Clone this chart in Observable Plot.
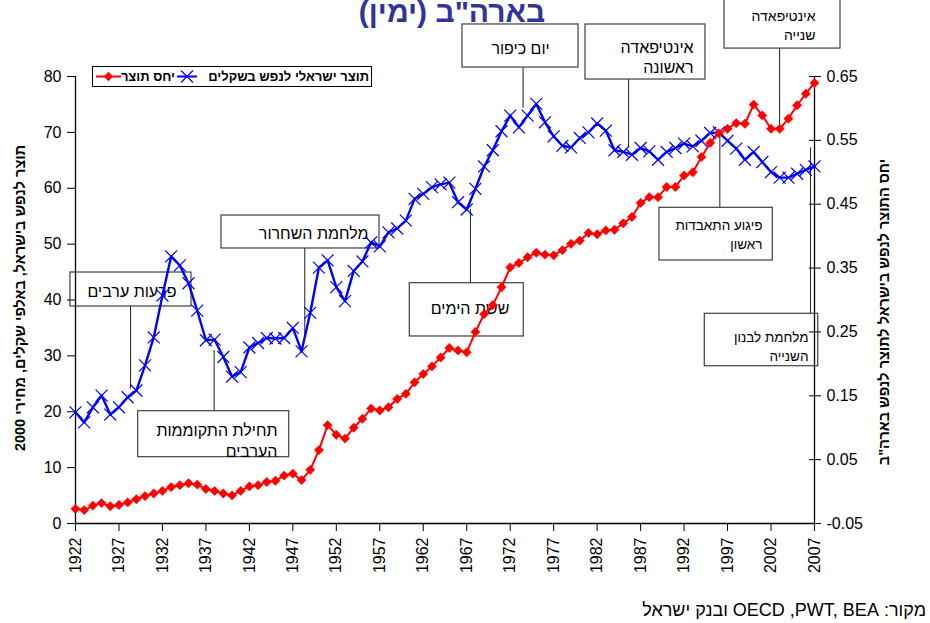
<!DOCTYPE html>
<html><head><meta charset="utf-8">
<script src="https://cdn.jsdelivr.net/npm/d3@7"></script>
<script src="https://cdn.jsdelivr.net/npm/@observablehq/plot@0.6"></script>
<style>
body{margin:0;background:#fff;}
#wrap{position:relative;width:930px;height:623px;overflow:hidden;background:#fff;font-family:"Liberation Sans",Arial,sans-serif;}
#chart{position:absolute;left:0;top:0;}
.abs{position:absolute;white-space:nowrap;}
</style></head><body>
<div id="wrap"><div id="chart"></div></div>
<script>
// ---------- data ----------
const years = d3.range(1922, 2008);
const gdpPerCapita = [
  19.9, 18.1, 20.8, 22.9, 19.5, 20.8, 22.6, 23.8, 28.3, 33.3,
  40.8, 47.8, 46.2, 43.0, 38.1, 32.8, 32.9, 29.8, 26.3, 27.1,
  31.5, 32.3, 33.2, 33.1, 33.2, 35.0, 30.8, 37.7, 45.8, 47.1,
  42.3, 39.8, 45.2, 46.9, 50.3, 49.6, 52.1, 52.8, 54.2, 58.1,
  59.0, 60.2, 60.7, 61.0, 57.5, 56.2, 59.9, 63.9, 66.8, 70.2,
  73.0, 70.9, 73.0, 75.1, 71.8, 69.3, 67.6, 67.3, 69.0, 70.0,
  71.6, 70.3, 66.8, 66.5, 66.0, 67.2, 66.6, 65.1, 66.5, 67.2,
  68.0, 67.5, 68.5, 69.9, 70.0, 68.5, 67.1, 65.1, 66.5, 64.7,
  62.9, 61.9, 61.9, 62.6, 63.3, 63.9
];
const gdpRatio = [
  -0.027, -0.029, -0.022, -0.018, -0.023, -0.021, -0.017, -0.012, -0.007, -0.003,
  0.001, 0.007, 0.010, 0.013, 0.011, 0.004, 0.001, -0.003, -0.006, 0.001,
  0.008, 0.010, 0.015, 0.017, 0.025, 0.028, 0.018, 0.034, 0.065, 0.104,
  0.089, 0.083, 0.100, 0.114, 0.130, 0.127, 0.132, 0.145, 0.153, 0.171,
  0.184, 0.196, 0.210, 0.225, 0.221, 0.218, 0.250, 0.278, 0.292, 0.320,
  0.351, 0.358, 0.367, 0.374, 0.371, 0.370, 0.378, 0.388, 0.393, 0.405,
  0.403, 0.409, 0.410, 0.420, 0.430, 0.452, 0.461, 0.461, 0.477, 0.477,
  0.495, 0.500, 0.524, 0.546, 0.561, 0.568, 0.577, 0.576, 0.606, 0.589,
  0.568, 0.568, 0.584, 0.605, 0.623, 0.640
];
const xTickYears = [1922,1927,1932,1937,1942,1947,1952,1957,1962,1967,1972,1977,1982,1987,1992,1997,2002,2007];
const leftTicks = [0,10,20,30,40,50,60,70,80];
const rightTicks = [-0.05,0.05,0.15,0.25,0.35,0.45,0.55,0.65];
const rightTickLabels = ["-0.05","0.05","0.15","0.25","0.35","0.45","0.55","0.65"];
const seriesNames = ["יחס תוצר", "תוצר ישראלי לנפש בשקלים"];
const eventLabels = [
  "יום כיפור",
  "אינטיפאדה\nראשונה",
  "אינטיפאדה\nשנייה",
  "מלחמת השחרור",
  "פרעות ערבים",
  "תחילת התקוממות\nהערבים",
  "ששת הימים",
  "פיגוע התאבדות\nראשון",
  "מלחמת לבנון\nהשנייה"
];
const titleText = 'בארה"ב (ימין)';
const leftTitle = "תוצר לנפש בישראל, באלפי שקלים, מחירי 2000";
const rightTitle = 'יחס התוצר לנפש בישראל לתוצר לנפש בארה"ב';
const sourceText = "מקור: OECD ,PWT, BEA ובנק ישראל";

// ---------- layout of callouts (in data units: years / left-axis units) ----------
const eventLayout = [
  {box:[1966.51,1979.86,81.61,89.31], at:[1973.19,85.3], anchor:"middle", size:16, lh:1.3, lead:[1973.48,81.61,74.3]},
  {box:[1980.66,1994.46,79.46,89.31], at:[1993.1,83.6], anchor:"end", size:16, lh:1.3, lead:[1985.61,79.46,67.3]},
  {box:[1996.65,2009.99,85.0,94.5], at:[2007.12,89.4], anchor:"end", size:14, lh:1.36, lead:[2002.98,85.0,70.9]},
  {box:[1938.79,1956.97,49.22,55.12], at:[1955.7,52.1], anchor:"end", size:16, lh:1.3, lead:[1948.37,49.22,33.47]},
  {box:[1921.42,1935.34,38.84,44.92], at:[1928.5,41.8], anchor:"middle", size:16, lh:1.3, lead:[1928.33,38.84,24.04]},
  {box:[1929.21,1946.58,11.87,20.10], at:[1945.23,15.0], anchor:"end", size:16, lh:1.31, lead:[1937.95,20.10,30.96]},
  {box:[1960.45,1973.56,33.47,43.01], at:[1967.38,38.7], anchor:"middle", size:16, lh:1.3, lead:[1967.43,43.01,56.2]},
  {box:[1989.17,2002.2,47.07,56.5], at:[2001.02,51.9], anchor:"end", size:13.5, lh:1.42, lead:[1996.11,56.5,70.03]},
  {box:[1994.38,2007.43,28.15,37.53], at:[2006.31,31.8], anchor:"end", size:13.5, lh:1.4, lead:[2006.54,37.53,67.24]}
];
const events = eventLabels.map((label, i) => ({label, ...eventLayout[i]}));

// ---------- dual-axis mapping ----------
const leftDomain = [0, 80], rightDomain = [-0.05, 0.65];
const toLeft = r => leftDomain[0] + (r - rightDomain[0]) / (rightDomain[1] - rightDomain[0]) * (leftDomain[1] - leftDomain[0]);
const rows = years.map((year, i) => ({year, gdp: gdpPerCapita[i], ratio: gdpRatio[i], ratioL: toLeft(gdpRatio[i])}));
const rightTickPos = rightTicks.map(toLeft);
const rightLabelFor = v => { let bi = 0; rightTickPos.forEach((p, i) => { if (Math.abs(p - v) < Math.abs(rightTickPos[bi] - v)) bi = i; }); return rightTickLabels[bi]; };

const FONT = '"Liberation Sans", Arial, sans-serif';
const BLUE = "#0000ff", RED = "#ff0000";

const eventMarks = [];
for (const e of events) {
  eventMarks.push(Plot.text([e], {x: d => d.at[0], y: d => d.at[1], text: d => d.label, textAnchor: e.anchor, fontSize: e.size, lineHeight: e.lh, fill: "#000"}));
}

const chart = Plot.plot({
  width: 930, height: 623,
  marginLeft: 75, marginRight: 116, marginTop: 76, marginBottom: 100,
  x: {domain: [1922, 2007]},
  y: {domain: leftDomain},
  style: {fontFamily: FONT, fontSize: "16px", color: "#000", background: "transparent", overflow: "visible"},
  marks: [
    Plot.rect(events, {x1: d => d.box[0], x2: d => d.box[1], y1: d => d.box[2], y2: d => d.box[3], fill: "white", stroke: "#404040", strokeWidth: 1.2}),
    Plot.ruleX(events, {x: d => d.lead[0], y1: d => d.lead[1], y2: d => d.lead[2], stroke: "#333", strokeWidth: 1.1}),
    ...eventMarks,
    Plot.ruleX([1922, 2007], {stroke: "#000", strokeWidth: 1.3}),
    Plot.ruleY([0], {stroke: "#000", strokeWidth: 1.5}),
    Plot.axisY(leftTicks, {anchor: "left", tickSize: 8, tickPadding: 6, fontSize: 16, label: null, tickFormat: d => String(d)}),
    Plot.axisY(rightTickPos, {anchor: "right", tickSize: 6, tickPadding: 6, fontSize: 16, label: null, tickFormat: rightLabelFor}),
    Plot.axisY(rightTickPos, {anchor: "right", tickSize: 6, dx: -6, label: null, tickFormat: () => ""}),
    Plot.axisX(xTickYears, {anchor: "bottom", tickSize: 8, tickPadding: 6, tickRotate: -90, fontSize: 16, label: null, tickFormat: d => String(d)}),
    Plot.line(rows, {x: "year", y: "gdp", stroke: BLUE, strokeWidth: 2.4}),
    Plot.dot(rows, {x: "year", y: "gdp", symbol: "times", r: 5.5, stroke: BLUE, strokeWidth: 1.2}),
    Plot.line(rows, {x: "year", y: "ratioL", stroke: RED, strokeWidth: 2}),
    Plot.dot(rows, {x: "year", y: "ratioL", symbol: "diamond2", r: 4.2, fill: RED, stroke: RED, strokeWidth: 0.5})
  ]
});
document.getElementById("chart").appendChild(chart);

// ---------- overlay: legend, titles, source ----------
const wrap = d3.select("#wrap");
const ov = wrap.append("svg").attr("width", 930).attr("height", 623)
  .style("position", "absolute").style("left", 0).style("top", 0).style("pointer-events", "none");
const lg = ov.append("g").attr("font-family", FONT).attr("font-weight", "bold").attr("font-size", 13);
lg.append("rect").attr("x", 92.5).attr("y", 66.5).attr("width", 279).attr("height", 20).attr("fill", "white").attr("stroke", "#000").attr("stroke-width", 1);
lg.append("line").attr("x1", 96).attr("x2", 121).attr("y1", 76.5).attr("y2", 76.5).attr("stroke", RED).attr("stroke-width", 2);
lg.append("path").attr("d", d3.symbol(d3.symbolDiamond2, Math.PI * 4.2 * 4.2)()).attr("transform", "translate(108.5,76.5)").attr("fill", RED);
lg.append("text").attr("x", 175).attr("y", 81).attr("text-anchor", "end").text(seriesNames[0]);
lg.append("line").attr("x1", 177).attr("x2", 197).attr("y1", 76.5).attr("y2", 76.5).attr("stroke", BLUE).attr("stroke-width", 2);
lg.append("path").attr("d", d3.symbol(d3.symbolTimes, Math.PI * 5.5 * 5.5)()).attr("transform", "translate(187,76.5)").attr("fill", "none").attr("stroke", BLUE).attr("stroke-width", 1.2);
lg.append("text").attr("x", 369).attr("y", 81).attr("text-anchor", "end").text(seriesNames[1]);

wrap.append("div").attr("class", "abs").attr("dir", "rtl")
  .style("left", "0px").style("width", "904px").style("top", "-3px").style("text-align", "center")
  .style("font", "bold 30px/30px " + FONT).style("color", "#333399").text(titleText);
wrap.append("div").attr("class", "abs").attr("dir", "rtl")
  .style("left", "20px").style("top", "298px").style("transform", "translate(-50%,-50%) rotate(-90deg)")
  .style("font", "bold 14.5px/16px " + FONT).style("color", "#000").text(leftTitle);
wrap.append("div").attr("class", "abs").attr("dir", "rtl")
  .style("left", "884px").style("top", "312px").style("transform", "translate(-50%,-50%) rotate(-90deg)")
  .style("font", "bold 14.5px/16px " + FONT).style("color", "#000").text(rightTitle);
wrap.append("div").attr("class", "abs").attr("dir", "rtl")
  .style("right", "4px").style("top", "601px")
  .style("font", "18px/18px " + FONT).style("color", "#000").text(sourceText);
</script>
</body></html>
